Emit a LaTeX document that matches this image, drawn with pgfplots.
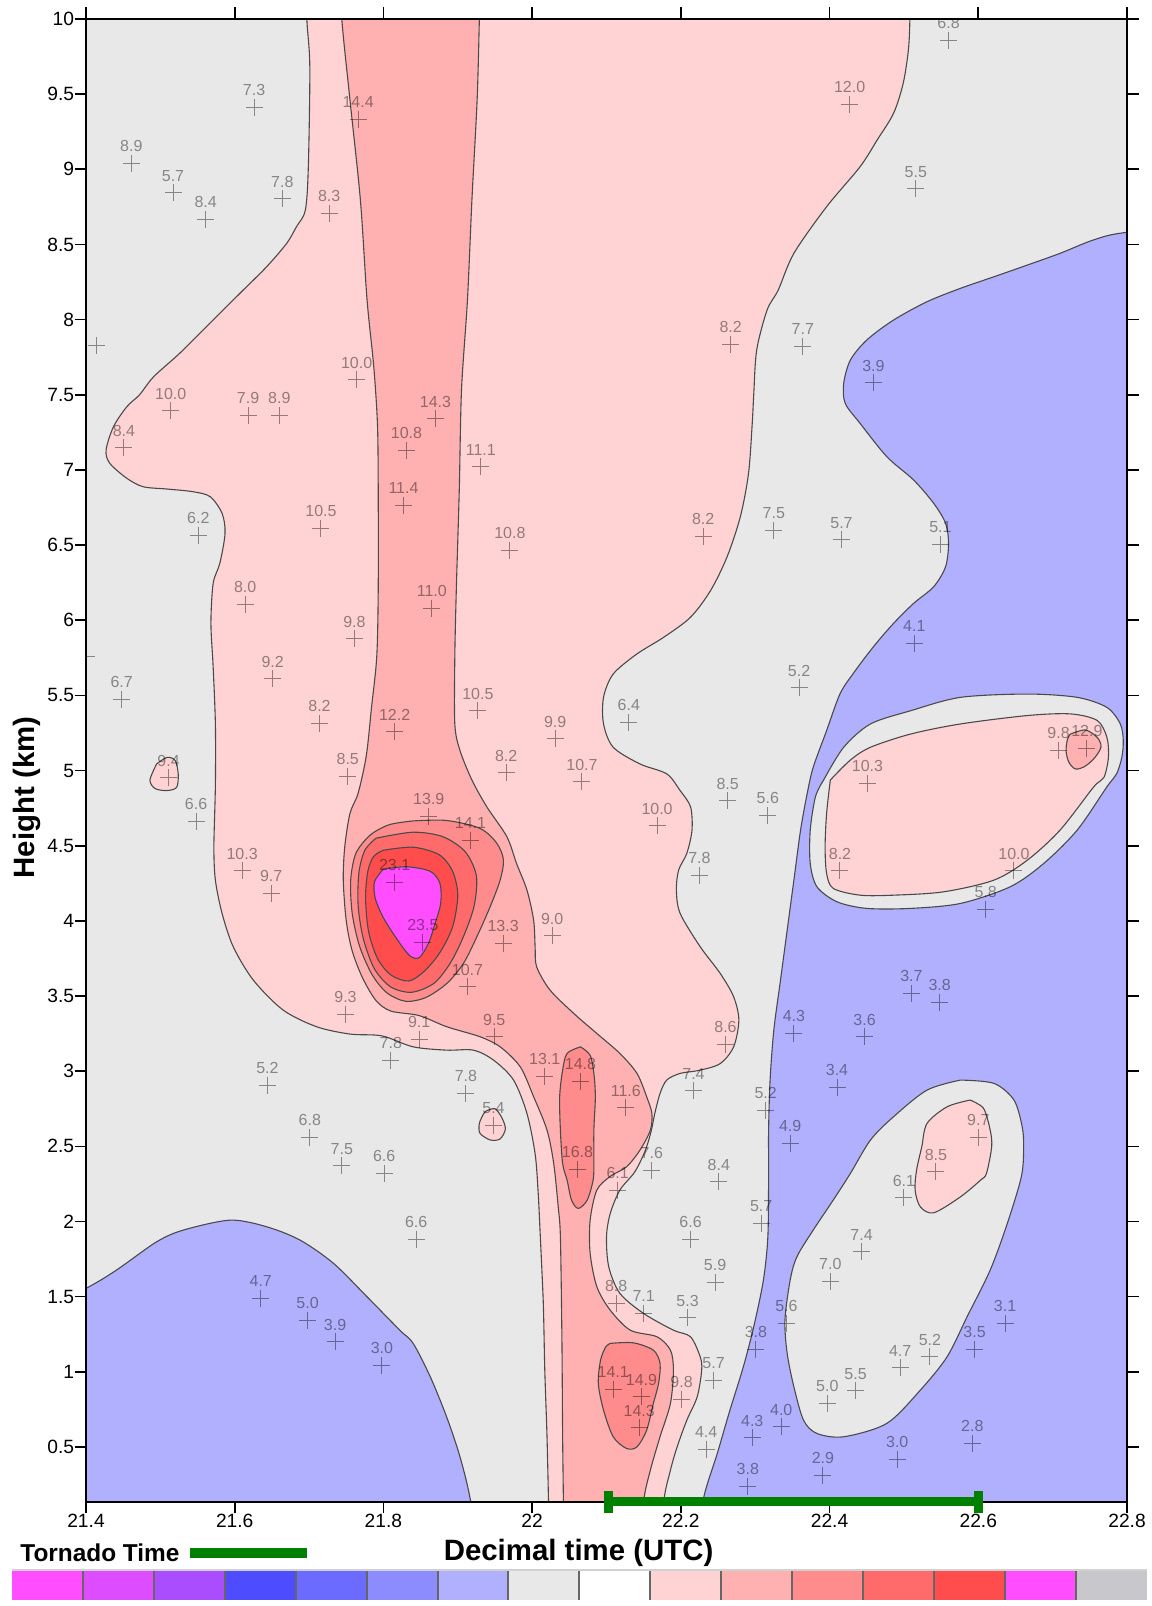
\documentclass[border=0pt]{standalone}
\usepackage{pgfplots}
\pgfplotsset{compat=1.18}
\usepackage{fontspec}
\setmainfont{Liberation Sans}
\definecolor{cgrey}{HTML}{E8E8E8}
\definecolor{cblue}{HTML}{B0B0FF}
\definecolor{cpa}{HTML}{FFD3D3}
\definecolor{cpb}{HTML}{FFB0B0}
\definecolor{cpc}{HTML}{FF8C8C}
\definecolor{cpd}{HTML}{FF6B6B}
\definecolor{cpe}{HTML}{FF4D4D}
\definecolor{cmag}{HTML}{FF4DFF}
\definecolor{cline}{HTML}{4A4A4A}
\definecolor{tgreen}{HTML}{008000}
\pgfplotsset{contour/.style={draw=cline, line width=0.55pt, smooth, tension=0.5}}
\pgfplotstableread{
x y label
21.626 9.410 7.3
21.766 9.333 14.4
21.461 9.040 8.9
21.517 8.844 5.7
21.561 8.669 8.4
21.664 8.804 7.8
21.727 8.705 8.3
21.414 7.826 {}
21.764 7.600 10.0
22.267 7.836 8.2
22.560 9.860 6.8
22.427 9.434 12.0
22.516 8.869 5.5
22.364 7.820 7.7
22.459 7.580 3.9
21.514 7.394 10.0
21.618 7.361 7.9
21.660 7.361 8.9
21.451 7.146 8.4
21.551 6.567 6.2
21.716 6.611 10.5
21.614 6.108 8.0
21.761 5.877 9.8
21.651 5.611 9.2
21.448 5.474 6.7
21.401 5.757 {}
21.815 5.258 12.2
21.714 5.314 8.2
21.752 4.963 8.5
21.511 4.952 9.4
21.870 7.339 14.3
21.831 7.132 10.8
21.931 7.021 11.1
21.827 6.764 11.4
21.970 6.467 10.8
22.230 6.556 8.2
22.325 6.600 7.5
21.865 6.079 11.0
21.927 5.398 10.5
22.031 5.210 9.9
22.130 5.321 6.4
21.965 4.985 8.2
22.067 4.925 10.7
22.416 6.534 5.7
22.549 6.507 5.1
22.514 5.846 4.1
22.359 5.551 5.2
22.708 5.136 9.8
22.746 5.148 12.9
22.451 4.915 10.3
22.806 5.690 6.0
21.548 4.660 6.6
21.610 4.333 10.3
21.649 4.183 9.7
21.749 3.380 9.3
21.815 4.254 23.1
21.810 3.074 7.8
21.644 2.907 5.2
21.701 2.560 6.8
21.744 2.371 7.5
21.801 2.320 6.6
21.861 4.697 13.9
21.917 4.538 14.1
21.853 3.857 23.5
21.961 3.850 13.3
22.027 3.901 9.0
21.913 3.561 10.7
21.848 3.213 9.1
21.949 3.229 9.5
22.168 4.633 10.0
22.263 4.799 8.5
22.317 4.704 5.6
22.225 4.305 7.8
22.260 3.180 8.6
22.017 2.967 13.1
22.065 2.934 14.8
21.911 2.852 7.8
21.948 2.641 5.4
22.126 2.757 11.6
22.217 2.870 7.4
22.314 2.741 5.2
22.061 2.347 16.8
22.161 2.340 7.6
22.251 2.264 8.4
22.115 2.209 6.1
22.414 4.333 8.2
22.648 4.333 10.0
22.610 4.076 5.8
22.510 3.518 3.7
22.548 3.458 3.8
22.352 3.252 4.3
22.447 3.229 3.6
22.410 2.892 3.4
22.347 2.520 4.9
22.600 2.560 9.7
22.543 2.331 8.5
22.500 2.158 6.1
22.443 1.798 7.4
22.401 1.603 7.0
22.342 1.322 5.6
22.636 1.322 3.1
22.595 1.149 3.5
22.535 1.100 5.2
22.495 1.027 4.7
22.435 0.874 5.5
22.397 0.790 5.0
22.335 0.634 4.0
22.491 0.419 3.0
22.592 0.524 2.8
22.391 0.313 2.9
21.844 1.881 6.6
22.213 1.883 6.6
22.308 1.987 5.7
22.246 1.595 5.9
22.113 1.455 8.8
22.150 1.389 7.1
22.209 1.359 5.3
22.301 1.151 3.8
22.244 0.945 5.7
22.109 0.885 14.1
22.147 0.834 14.9
22.144 0.627 14.3
22.201 0.816 9.8
22.234 0.486 4.4
22.296 0.561 4.3
22.290 0.240 3.8
22.196 0.120 6.2
21.635 1.488 4.7
21.698 1.344 5.0
21.735 1.200 3.9
21.798 1.044 3.0
}\obs
\begin{document}
\begin{tikzpicture}
\useasboundingbox (0,0) rectangle (575.5pt,803pt);
\begin{axis}[
  at={(43pt,52pt)}, anchor=south west,
  scale only axis, width=520.5pt, height=741.5pt,
  xmin=21.4, xmax=22.8, ymin=0.134, ymax=10,
  axis background/.style={fill=cgrey},
  axis on top,
  clip marker paths=true,
  tick align=outside, major tick length=5.75pt,
  axis line style={line width=0.9pt},
  every tick/.style={black, line width=0.8pt},
  xtick={21.4,21.6,21.8,22,22.2,22.4,22.6,22.8},
  xticklabels={21.4,21.6,21.8,22,22.2,22.4,22.6,22.8},
  ytick={0.5,1,1.5,2,2.5,3,3.5,4,4.5,5,5.5,6,6.5,7,7.5,8,8.5,9,9.5,10},
  yticklabels={0.5,1,1.5,2,2.5,3,3.5,4,4.5,5,5.5,6,6.5,7,7.5,8,8.5,9,9.5,10},
  xticklabel style={font=\fontsize{9.6}{11}\selectfont, inner sep=0pt, anchor=north},
  yticklabel style={font=\fontsize{9.6}{11}\selectfont, inner sep=0pt, anchor=east},
]
% blue regions
\addplot[contour, fill=cblue] coordinates {(21.30,1.30) (21.40,1.555) (21.441,1.677) (21.495,1.865) (21.531,1.943) (21.594,2.009) (21.643,1.965) (21.688,1.876) (21.733,1.721) (21.778,1.499) (21.822,1.277) (21.840,1.189) (21.863,0.967) (21.885,0.700) (21.903,0.434) (21.917,0.146) (21.925,-0.2) (21.30,-0.2) (21.30,1.30)} -- cycle;
\addplot[contour, fill=cblue] coordinates {(22.95,8.65) (22.8,8.581) (22.755,8.530) (22.710,8.441) (22.666,8.363) (22.621,8.285) (22.576,8.208) (22.531,8.119) (22.486,7.997) (22.450,7.864) (22.428,7.731) (22.419,7.576) (22.421,7.443) (22.441,7.310) (22.477,7.088) (22.513,6.933) (22.540,6.778) (22.556,6.645) (22.560,6.512) (22.556,6.356) (22.540,6.223) (22.513,6.112) (22.486,5.979) (22.459,5.824) (22.432,5.647) (22.414,5.51) (22.396,5.266) (22.378,5.022) (22.370,4.85) (22.361,4.604) (22.352,4.271) (22.343,3.939) (22.334,3.606) (22.325,3.273) (22.320,2.941) (22.318,2.608) (22.318,2.3) (22.317,1.898) (22.311,1.61) (22.298,1.30) (22.284,1.033) (22.266,0.745) (22.249,0.457) (22.230,0.146) (22.225,-0.2) (22.95,-0.2) (22.95,8.65)} -- cycle;
% grey islands in blue
\addplot[contour, fill=cgrey] coordinates {(22.392,4.937) (22.419,5.155) (22.455,5.31) (22.509,5.398) (22.576,5.487) (22.666,5.509) (22.733,5.487) (22.773,5.42) (22.791,5.31) (22.795,5.199) (22.793,5.088) (22.786,4.978) (22.773,4.892) (22.733,4.604) (22.688,4.382) (22.643,4.227) (22.576,4.116) (22.509,4.083) (22.450,4.083) (22.410,4.127) (22.383,4.227) (22.374,4.382) (22.374,4.604) (22.381,4.826) (22.392,4.937)} -- cycle;
\addplot[contour, fill=cgrey] coordinates {(22.576,2.941) (22.621,2.919) (22.648,2.808) (22.659,2.631) (22.661,2.497) (22.658,2.3) (22.639,1.987) (22.616,1.677) (22.585,1.367) (22.558,1.10) (22.522,0.878) (22.477,0.657) (22.419,0.568) (22.383,0.59) (22.365,0.678) (22.352,0.90) (22.343,1.122) (22.340,1.344) (22.347,1.61) (22.356,1.765) (22.378,1.943) (22.405,2.143) (22.428,2.32) (22.455,2.542) (22.486,2.697) (22.531,2.874) (22.576,2.941)} -- cycle;
% light pink
\addplot[contour, fill=cpa] coordinates {(21.697,10.3) (21.697,10) (21.701,9.683) (21.699,9.017) (21.695,8.729) (21.683,8.618) (21.670,8.508) (21.643,8.352) (21.607,8.175) (21.562,7.953) (21.526,7.776) (21.491,7.62) (21.472,7.5) (21.455,7.421) (21.437,7.288) (21.427,7.132) (21.432,7.044) (21.455,6.944) (21.477,6.888) (21.509,6.873) (21.544,6.855) (21.567,6.822) (21.583,6.711) (21.587,6.578) (21.580,6.379) (21.571,6.245) (21.568,5.979) (21.571,5.69) (21.574,5.31) (21.574,4.9) (21.572,4.493) (21.574,4.271) (21.583,4.05) (21.598,3.828) (21.625,3.606) (21.665,3.407) (21.710,3.296) (21.755,3.247) (21.798,3.235) (21.840,3.162) (21.885,3.14) (21.921,3.14) (21.948,3.074) (21.975,2.941) (21.993,2.719) (22.004,2.45) (22.008,2.2) (22.011,1.898) (22.015,1.455) (22.017,1.011) (22.020,0.568) (22.022,0.134) (22.023,-0.2) (22.177,-0.2) (22.177,0.134) (22.186,0.346) (22.195,0.501) (22.208,0.678) (22.222,0.834) (22.228,1.011) (22.226,1.10) (22.213,1.233) (22.190,1.277) (22.150,1.388) (22.118,1.522) (22.103,1.699) (22.100,1.898) (22.105,2.053) (22.118,2.209) (22.138,2.33) (22.152,2.47) (22.160,2.6) (22.165,2.72) (22.172,2.852) (22.181,2.941) (22.199,2.985) (22.226,3.007) (22.253,3.051) (22.271,3.162) (22.278,3.34) (22.271,3.495) (22.253,3.65) (22.226,3.828) (22.199,4.05) (22.194,4.205) (22.197,4.338) (22.208,4.449) (22.215,4.604) (22.213,4.759) (22.199,4.867) (22.181,4.978) (22.145,5.044) (22.109,5.155) (22.096,5.31) (22.096,5.487) (22.109,5.642) (22.141,5.776) (22.177,5.887) (22.213,6.02) (22.240,6.198) (22.262,6.42) (22.280,6.689) (22.291,6.977) (22.296,7.31) (22.298,7.5) (22.302,7.798) (22.316,8.064) (22.331,8.197) (22.352,8.441) (22.396,8.751) (22.441,9.017) (22.464,9.195) (22.486,9.372) (22.499,9.572) (22.506,9.794) (22.508,10) (22.508,10.3) (21.697,10.3)} -- cycle;
\addplot[contour, fill=cpa] coordinates {(21.495,5.044) (21.509,5.088) (21.520,5.066) (21.524,4.978) (21.522,4.889) (21.509,4.867) (21.493,4.88) (21.486,4.937) (21.495,5.044)} -- cycle;
\addplot[contour, fill=cpa] coordinates {(21.939,2.737) (21.950,2.75) (21.959,2.693) (21.964,2.616) (21.957,2.55) (21.944,2.542) (21.930,2.586) (21.929,2.652) (21.935,2.719) (21.939,2.737)} -- cycle;
\addplot[contour, fill=cpa] coordinates {(22.401,4.937) (22.428,5.07) (22.455,5.155) (22.509,5.243) (22.576,5.31) (22.666,5.366) (22.724,5.377) (22.760,5.333) (22.773,5.22) (22.775,5.088) (22.769,4.955) (22.755,4.89) (22.710,4.604) (22.666,4.404) (22.621,4.271) (22.553,4.193) (22.486,4.171) (22.441,4.171) (22.405,4.216) (22.396,4.316) (22.394,4.493) (22.396,4.715) (22.401,4.937)} -- cycle;
\addplot[contour, fill=cpa] coordinates {(22.589,2.808) (22.607,2.753) (22.616,2.608) (22.618,2.497) (22.611,2.32) (22.603,2.275) (22.576,2.164) (22.540,2.058) (22.522,2.098) (22.515,2.209) (22.517,2.342) (22.524,2.497) (22.531,2.652) (22.558,2.763) (22.589,2.808)} -- cycle;
% pink b
\addplot[contour, fill=cpb] coordinates {(21.743,10.3) (21.744,10) (21.755,9.461) (21.769,8.796) (21.778,8.13) (21.787,7.687) (21.792,7.3) (21.793,6.866) (21.793,6.2) (21.791,5.757) (21.784,5.421) (21.777,5.1) (21.766,4.85) (21.755,4.715) (21.748,4.493) (21.746,4.271) (21.750,4.0) (21.758,3.80) (21.772,3.62) (21.790,3.47) (21.810,3.40) (21.848,3.37) (21.885,3.296) (21.930,3.229) (21.957,3.162) (21.984,3.029) (22.002,2.83) (22.020,2.608) (22.029,2.386) (22.035,2.1) (22.038,1.898) (22.040,1.233) (22.041,0.568) (22.042,0.134) (22.042,-0.2) (22.150,-0.2) (22.150,0.134) (22.159,0.346) (22.172,0.568) (22.186,0.79) (22.190,1.011) (22.186,1.144) (22.168,1.233) (22.132,1.277) (22.105,1.41) (22.087,1.566) (22.078,1.788) (22.078,2.009) (22.087,2.209) (22.105,2.30) (22.127,2.364) (22.145,2.475) (22.159,2.608) (22.161,2.719) (22.154,2.83) (22.141,2.985) (22.118,3.118) (22.087,3.251) (22.056,3.384) (22.024,3.540) (22.006,3.695) (22.004,3.828) (22.002,4.005) (21.993,4.205) (21.979,4.382) (21.966,4.56) (21.939,4.759) (21.919,4.937) (21.903,5.133) (21.896,5.31) (21.896,5.757) (21.898,6.2) (21.902,6.866) (21.905,7.532) (21.913,8.13) (21.919,8.796) (21.926,9.461) (21.929,10) (21.930,10.3) (21.743,10.3)} -- cycle;
\addplot[contour, fill=cpb] coordinates {(22.724,5.243) (22.744,5.27) (22.760,5.22) (22.765,5.158) (22.757,5.088) (22.744,5.03) (22.731,5.01) (22.722,5.054) (22.718,5.13) (22.720,5.21) (22.724,5.243)} -- cycle;
% pink c
\addplot[contour, fill=cpc] coordinates {(21.840,4.665) (21.885,4.668) (21.930,4.615) (21.9525,4.516) (21.9614,4.405) (21.957,4.272) (21.9435,4.094) (21.9256,3.894) (21.9076,3.717) (21.8853,3.584) (21.857,3.49) (21.83,3.465) (21.805,3.52) (21.785,3.64) (21.768,3.83) (21.758,4.05) (21.756,4.272) (21.763,4.449) (21.782,4.57) (21.808,4.64) (21.840,4.665)} -- cycle;
\addplot[contour, fill=cpc] coordinates {(22.065,3.162) (22.078,3.106) (22.083,2.985) (22.085,2.83) (22.083,2.608) (22.083,2.386) (22.082,2.275) (22.074,2.142) (22.062,2.087) (22.053,2.142) (22.047,2.275) (22.041,2.386) (22.038,2.608) (22.037,2.83) (22.041,3.007) (22.047,3.118) (22.065,3.162)} -- cycle;
\addplot[contour, fill=cpc] coordinates {(22.105,1.189) (22.136,1.193) (22.163,1.144) (22.172,1.055) (22.170,0.922) (22.163,0.79) (22.154,0.612) (22.141,0.501) (22.127,0.49) (22.109,0.568) (22.096,0.745) (22.089,0.922) (22.092,1.078) (22.099,1.166) (22.105,1.189)} -- cycle;
% core
\addplot[contour, fill=cpd] coordinates {(21.79,4.55) (21.84,4.59) (21.88,4.56) (21.91,4.46) (21.925,4.30) (21.922,4.10) (21.908,3.90) (21.89,3.72) (21.868,3.585) (21.838,3.525) (21.81,3.56) (21.788,3.68) (21.773,3.88) (21.766,4.10) (21.767,4.32) (21.775,4.47) (21.79,4.55)} -- cycle;
\addplot[contour, fill=cpe] coordinates {(21.80,4.47) (21.84,4.49) (21.875,4.44) (21.893,4.33) (21.9,4.17) (21.893,3.96) (21.876,3.79) (21.855,3.665) (21.834,3.6) (21.81,3.64) (21.792,3.75) (21.78,3.93) (21.776,4.15) (21.779,4.33) (21.787,4.43) (21.80,4.47)} -- cycle;
\addplot[contour, fill=cmag] coordinates {(21.800,4.345) (21.8315,4.36) (21.8628,4.33) (21.876,4.25) (21.877,4.117) (21.8695,3.983) (21.8605,3.85) (21.848,3.755) (21.835,3.77) (21.818,3.88) (21.800,4.02) (21.789,4.15) (21.788,4.26) (21.800,4.345)} -- cycle;
% observations
\addplot[only marks, mark=+, mark size=4.25pt,
  mark options={draw=black, draw opacity=0.42, line width=0.5pt},
  nodes near coords, point meta=explicit symbolic,
  nodes near coords align={anchor=base},
  every node near coord/.append style={yshift=5.85pt, inner sep=0pt, font=\fontsize{8}{9}\selectfont, text=black, text opacity=0.42}]
  table[x=x, y=y, meta=label] {\obs};
\end{axis}
% tornado time bar
\begin{axis}[
  at={(43pt,52pt)}, anchor=south west,
  scale only axis, width=520.5pt, height=741.5pt,
  xmin=21.4, xmax=22.8, ymin=0.134, ymax=10,
  hide axis, clip=false]
\addplot[tgreen, line width=4.5pt] coordinates {(22.103,0.134) (22.6,0.134)};
\addplot[tgreen, only marks, mark=|, mark size=5.3pt, mark options={line width=4.6pt}] coordinates {(22.103,0.134) (22.6,0.134)};
\end{axis}
\node[rotate=90, font=\bfseries\fontsize{14.7}{16}\selectfont] at (13.5pt,404.25pt) {Height (km)};
\node[anchor=base, inner sep=0pt, font=\bfseries\fontsize{14.7}{16}\selectfont] at (289.3pt,23pt) {Decimal time (UTC)};
\node[anchor=base west, inner sep=0pt, font=\bfseries\fontsize{12.2}{14}\selectfont] at (10pt,22.15pt) {Tornado Time};
\fill[tgreen] (95pt,23.85pt) rectangle (153.3pt,28.85pt);
% colour key
\foreach \c [count=\i from 0] in {FF4DFF,DD4DFF,AA4DFF,4D4DFF,6B6BFF,8C8CFF,B0B0FF,E8E8E8,FFFFFF,FFD3D3,FFB0B0,FF8C8C,FF6B6B,FF4D4D,FF4DFF,C8C8CC}{
  \definecolor{tmpc}{HTML}{\c}
  \fill[tmpc] ({6pt+\i*35.46pt},3pt) rectangle ({6pt+(\i+1)*35.46pt},18pt);
}
\foreach \i in {1,...,15}{\draw[line width=1pt, black!60] ({6pt+\i*35.46pt},3pt) -- ({6pt+\i*35.46pt},18pt);}
\draw[line width=1pt, black!18] (6pt,18pt) -- (573.5pt,18pt);
\end{tikzpicture}
\end{document}
